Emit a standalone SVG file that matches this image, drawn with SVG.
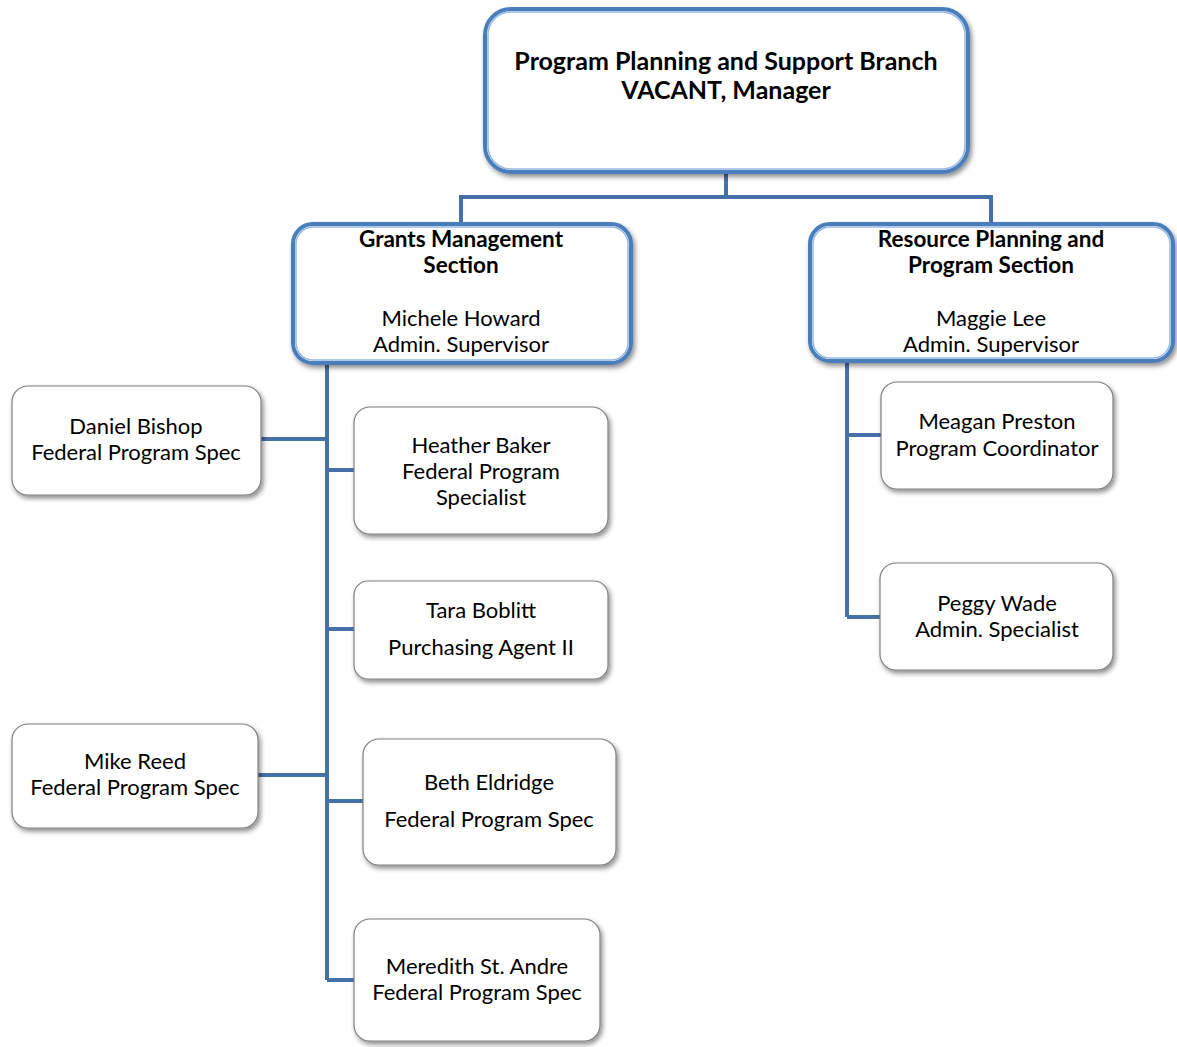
<svg xmlns="http://www.w3.org/2000/svg" width="1177" height="1047" viewBox="0 0 1177 1047">
<defs>
<filter id="sh" x="-10%" y="-10%" width="125%" height="130%">
<feGaussianBlur in="SourceAlpha" stdDeviation="2.5"/>
<feOffset dx="2" dy="3" result="b"/>
<feComponentTransfer><feFuncA type="linear" slope="0.45"/></feComponentTransfer>
<feMerge><feMergeNode/><feMergeNode in="SourceGraphic"/></feMerge>
</filter>
</defs>
<style>
.mgr{fill:#fff;stroke:#4A7EBB;stroke-width:4;filter:url(#sh)}
.inner{fill:none;stroke:#95B8E3;stroke-width:1.5}
.leaf{fill:#fff;stroke:#7F7F7F;stroke-width:1.2;filter:url(#sh)}
.ln{stroke:#4670A8;stroke-width:4;fill:none}
text{font-family:Lato,"Open Sans","Liberation Sans",sans-serif;fill:#000;text-anchor:middle}
.b{font-weight:bold}
.t1{font-size:25px}
.t2{font-size:22px}
.b.t2{font-size:22.5px}
</style>
<rect width="1177" height="1047" fill="#fff"/>
<g id="connectors">
<path class="ln" d="M726,173V197M461,197H991M461,195V224M991,195V224"/>
<path class="ln" d="M327,364V980M327,439H261M327,470H354M327,629H354M327,775H258M327,801H363M327,980H354"/>
<path class="ln" d="M847,362V617M847,435H881M847,617H880"/>
</g>
<g id="n-branch">
<rect class="mgr" x="485" y="9" width="483" height="163" rx="26"/>
<rect class="inner" x="488" y="12" width="477" height="157" rx="23"/>
<text class="b t1" x="726" y="70">Program Planning and Support Branch</text>
<text class="b t1" x="726" y="99">VACANT, Manager</text>
</g>
<g id="n-grants">
<rect class="mgr" x="293" y="224" width="338" height="139" rx="20"/>
<rect class="inner" x="296" y="227" width="332" height="133" rx="17"/>
<text class="b t2" x="461" y="247">Grants Management</text>
<text class="b t2" x="461" y="273">Section</text>
<text class="t2" x="461" y="326">Michele Howard</text>
<text class="t2" x="461" y="352">Admin. Supervisor</text>
</g>
<g id="n-resource">
<rect class="mgr" x="810" y="224" width="363" height="137" rx="20"/>
<rect class="inner" x="813" y="227" width="357" height="131" rx="17"/>
<text class="b t2" x="991" y="247">Resource Planning and</text>
<text class="b t2" x="991" y="273">Program Section</text>
<text class="t2" x="991" y="326">Maggie Lee</text>
<text class="t2" x="991" y="352">Admin. Supervisor</text>
</g>
<g id="n-daniel">
<rect class="leaf" x="12" y="386" width="249" height="109" rx="16"/>
<text class="t2" x="136" y="434">Daniel Bishop</text>
<text class="t2" x="136" y="460">Federal Program Spec</text>
</g>
<g id="n-heather">
<rect class="leaf" x="354" y="407" width="254" height="127" rx="16"/>
<text class="t2" x="481" y="453">Heather Baker</text>
<text class="t2" x="481" y="479">Federal Program</text>
<text class="t2" x="481" y="505">Specialist</text>
</g>
<g id="n-tara">
<rect class="leaf" x="354" y="581" width="254" height="98" rx="14"/>
<text class="t2" x="481" y="618">Tara Boblitt</text>
<text class="t2" x="481" y="655">Purchasing Agent II</text>
</g>
<g id="n-mike">
<rect class="leaf" x="12" y="724" width="246" height="104" rx="16"/>
<text class="t2" x="135" y="769">Mike Reed</text>
<text class="t2" x="135" y="795">Federal Program Spec</text>
</g>
<g id="n-beth">
<rect class="leaf" x="363" y="739" width="253" height="126" rx="16"/>
<text class="t2" x="489" y="790">Beth Eldridge</text>
<text class="t2" x="489" y="827">Federal Program Spec</text>
</g>
<g id="n-meredith">
<rect class="leaf" x="354" y="919" width="246" height="122" rx="16"/>
<text class="t2" x="477" y="974">Meredith St. Andre</text>
<text class="t2" x="477" y="1000">Federal Program Spec</text>
</g>
<g id="n-meagan">
<rect class="leaf" x="881" y="382" width="232" height="107" rx="16"/>
<text class="t2" x="997" y="429">Meagan Preston</text>
<text class="t2" x="997" y="456">Program Coordinator</text>
</g>
<g id="n-peggy">
<rect class="leaf" x="880" y="563" width="233" height="107" rx="16"/>
<text class="t2" x="997" y="611">Peggy Wade</text>
<text class="t2" x="997" y="637">Admin. Specialist</text>
</g>
</svg>
